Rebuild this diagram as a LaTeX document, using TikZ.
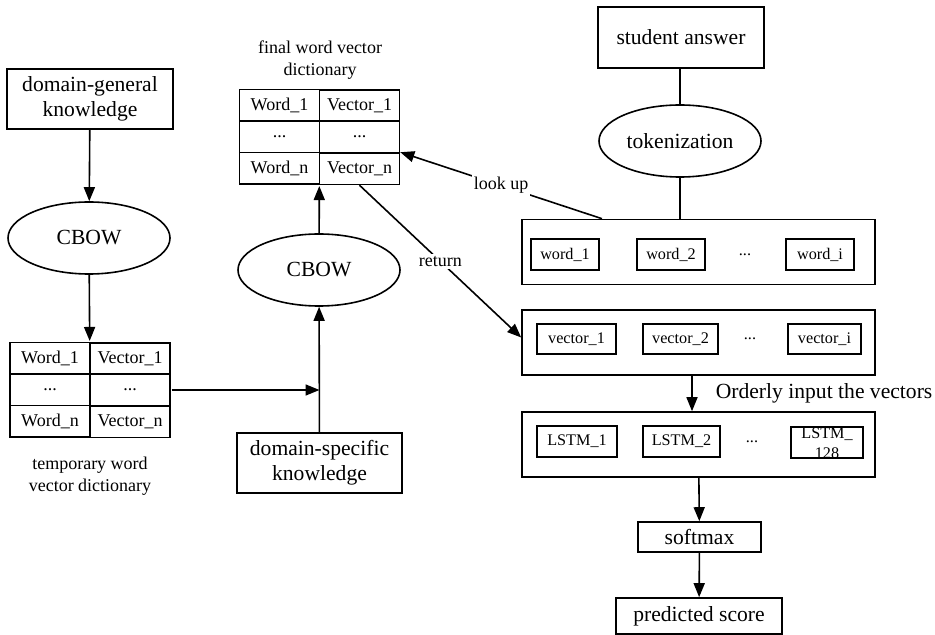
\documentclass[tikz,border=0pt]{standalone}
\usepackage{fontspec}
\setmainfont{Liberation Serif}
\usetikzlibrary{arrows.meta,matrix,shapes.geometric}
\newcommand\szbig{\fontsize{10.8}{12.5}\selectfont}
\newcommand\szmid{\fontsize{9}{11}\selectfont}
\newcommand\szsmall{\fontsize{8.1}{10}\selectfont}

\begin{document}
\begin{tikzpicture}[x=0.5pt,y=-0.5pt,line width=0.8pt,
  plainbox/.style={draw,rectangle,align=center,inner sep=0pt,font=\szbig},
  oval/.style={draw,ellipse,minimum width=81pt,minimum height=36pt,inner sep=0pt,font=\szbig},
  itembox/.style={draw,rectangle,minimum height=15.5pt,inner sep=0pt,font=\szsmall},
  holder/.style={draw,rectangle,minimum width=176.5pt,minimum height=32.5pt},
  dicttable/.style={matrix of nodes,inner sep=0pt,column sep=-0.8pt,row sep=-0.8pt,
    nodes={draw,minimum width=40pt,minimum height=15.7pt,inner sep=0pt,font=\szmid}},
  edgelabel/.style={fill=white,inner sep=1pt,font=\szmid},
  arr/.style={-{Triangle[length=7pt,width=5.5pt]}}]
\useasboundingbox (0,0) rectangle (935,635);

% left column
\node[plainbox,minimum width=83pt,minimum height=30pt] (general) at (90,99) {domain-general\\knowledge};
\node[oval] (cbowA) at (89,238) {CBOW};
\matrix[dicttable] (tempdict) at (90,390) {
  Word\_1 & Vector\_1\\
  ...     & ...\\
  Word\_n & Vector\_n\\
};
\node[align=center,font=\szmid] (tempcap) at (90,476) {temporary word\\vector dictionary};

% middle column
\node[align=center,font=\szmid] (finalcap) at (320,60) {final word vector\\dictionary};
\matrix[dicttable] (finaldict) at (319.5,137) {
  Word\_1 & Vector\_1\\
  ...     & ...\\
  Word\_n & Vector\_n\\
};
\node[oval] (cbowB) at (319,270) {CBOW};
\node[plainbox,minimum width=82.5pt,minimum height=30pt] (specific) at (319.5,463) {domain-specific\\knowledge};

% right column
\node[plainbox,minimum width=83pt,minimum height=30.5pt] (answer) at (681,37.5) {student answer};
\node[oval] (token) at (680,141) {tokenization};

\node[holder] (words) at (698.5,252) {};
\node[itembox,minimum width=34pt] (word1) at (565,254.5) {word\_1};
\node[itembox,minimum width=34pt] (word2) at (671,254.5) {word\_2};
\node[font=\szsmall] (worddots) at (745,254.5) {...};
\node[itembox,minimum width=34pt] (wordi) at (820,254.5) {word\_i};

\node[holder] (vectors) at (698.5,342.5) {};
\node[itembox,minimum width=39.5pt,minimum height=15pt] (vec1) at (576.5,339) {vector\_1};
\node[itembox,minimum width=37.5pt,minimum height=15pt] (vec2) at (680.5,339) {vector\_2};
\node[font=\szsmall] (vecdots) at (750,339) {...};
\node[itembox,minimum width=36.5pt,minimum height=15pt] (veci) at (824.5,339) {vector\_i};

\node[holder] (lstms) at (698.5,444.5) {};
\node[itembox,minimum width=40pt] (lstm1) at (577,441.5) {LSTM\_1};
\node[itembox,minimum width=38.5pt] (lstm2) at (681.5,441.5) {LSTM\_2};
\node[font=\szsmall] (lstmdots) at (752,442) {...};
\node[itembox,minimum width=36pt] (lstmn) at (827,442.5) {};
\node[align=center,inner sep=0pt,font=\szsmall] (lstmntext) at (827,443) {LSTM\_\\128};

\node[plainbox,minimum width=61.5pt,minimum height=15pt] (softmax) at (699.5,537) {softmax};
\node[plainbox,minimum width=83pt,minimum height=18pt] (score) at (699,616) {predicted score};

% connectors
\draw[arr] (general) -- (cbowA);
\draw[arr] (cbowA) -- (tempdict);
\draw[arr] (tempdict.east) -- (tempdict.east -| specific.north);
\draw[arr] (specific) -- (cbowB);
\draw[arr] (cbowB) -- (finaldict);
\draw (answer.south -| token.north) -- (token);
\draw (token) -- (token |- words.north);
\draw[arr] ([xshift=-48.25pt]words.north) -- node[edgelabel] (lookup) {look up} (finaldict-3-2.north east);
\draw[arr] (finaldict-3-2.south) -- node[edgelabel,pos=0.5] (return) {return} ([yshift=2.5pt]vectors.west);
\draw[arr] ([xshift=-3.25pt]vectors.south) -- ([xshift=-3.25pt]lstms.north);
\node[anchor=west,inner sep=0pt,font=\szbig] (orderly) at (715,393) {Orderly input the vectors};
\draw[arr] (lstms) -- (softmax);
\draw[arr] (softmax) -- (score);
\end{tikzpicture}
\end{document}
